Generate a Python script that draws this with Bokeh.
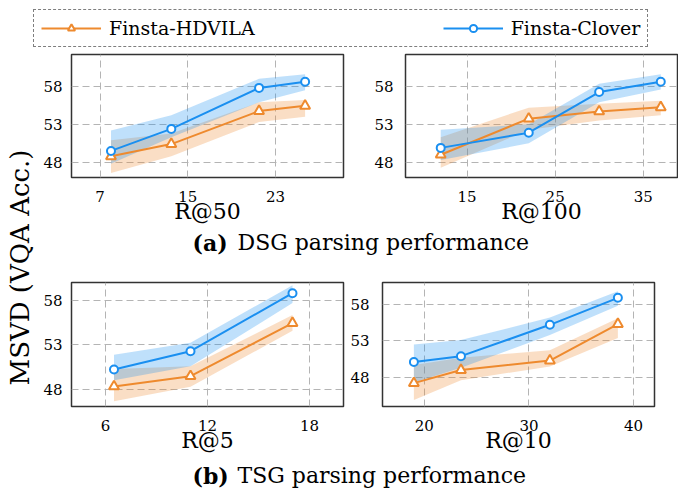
import numpy as np
from bokeh.plotting import figure
from bokeh.layouts import column, row
from bokeh.models import Label, Legend, LegendItem, FixedTicker, Range1d
from bokeh.embed import file_html
from bokeh.resources import INLINE

FONT = "DejaVu Serif"
ORANGE = "#EE8A2E"
BLUE = "#1A8FF0"

series_names = ["Finsta-HDVILA", "Finsta-Clover"]
y_title = "MSVD (VQA Acc.)"
caption_tags = ["(a)", "(b)"]
caption_texts = ["DSG parsing performance", "TSG parsing performance"]

# (a) DSG, R@50
r50_x = [8.0, 13.5, 21.5, 25.7]
r50_hd = [48.8, 50.4, 54.75, 55.45]
r50_hd_lo = [46.6, 48.8, 53.3, 54.0]
r50_hd_hi = [50.9, 51.8, 55.9, 56.2]
r50_cl = [49.5, 52.4, 57.8, 58.6]
r50_cl_lo = [47.8, 51.3, 55.9, 57.5]
r50_cl_hi = [52.2, 54.2, 59.0, 59.6]
r50_xticks = [7, 15, 23]

# (a) DSG, R@100
r100_x = [12.0, 22.0, 30.0, 37.0]
r100_hd = [49.0, 53.75, 54.7, 55.25]
r100_hd_lo = [47.3, 52.3, 53.5, 54.2]
r100_hd_hi = [51.3, 55.2, 55.7, 56.1]
r100_cl = [49.9, 51.9, 57.25, 58.6]
r100_cl_lo = [48.3, 50.5, 55.9, 57.6]
r100_cl_hi = [52.3, 53.0, 58.35, 59.6]
r100_xticks = [15, 25, 35]

# (b) TSG, R@5
r5_x = [6.5, 11.0, 17.0]
r5_hd = [48.35, 49.5, 55.45]
r5_hd_lo = [46.7, 48.3, 54.6]
r5_hd_hi = [50.3, 50.6, 56.35]
r5_cl = [50.25, 52.3, 58.8]
r5_cl_lo = [49.05, 50.6, 57.7]
r5_cl_hi = [51.9, 53.25, 59.7]
r5_xticks = [6, 12, 18]

# (b) TSG, R@10
r10_x = [19.0, 23.5, 32.0, 38.5]
r10_hd = [47.2, 49.0, 50.3, 55.3]
r10_hd_lo = [44.9, 47.6, 49.5, 53.4]
r10_hd_hi = [49.7, 50.7, 51.7, 56.1]
r10_cl = [50.1, 50.9, 55.2, 58.9]
r10_cl_lo = [47.3, 49.3, 53.8, 57.8]
r10_cl_hi = [52.5, 53.1, 56.2, 59.8]
r10_xticks = [20, 30, 40]

y_ticks = [48, 53, 58]


def blank(width, height):
    f = figure(width=width, height=height, x_range=(0, 1), y_range=(0, 1),
               x_axis_location=None, y_axis_location=None, title=None,
               min_border=0, output_backend="svg", toolbar_location=None)
    f.outline_line_color = None
    f.grid.visible = False
    return f


def panel(xs, hd, hd_lo, hd_hi, cl, cl_lo, cl_hi, xticks, xlabel, xr, yr,
          bl, br, bt, bb, fh, ystand):
    p = figure(frame_width=272, frame_height=fh, x_range=Range1d(*xr), y_range=Range1d(*yr),
               title=None, min_border_left=bl, min_border_right=br,
               min_border_top=bt, min_border_bottom=bb,
               output_backend="svg", toolbar_location=None)
    p.varea(x=xs, y1=hd_lo, y2=hd_hi, fill_color=ORANGE, fill_alpha=0.28)
    p.varea(x=xs, y1=cl_lo, y2=cl_hi, fill_color=BLUE, fill_alpha=0.28)
    p.line(xs, hd, line_color=ORANGE, line_width=2)
    p.line(xs, cl, line_color=BLUE, line_width=2)
    p.scatter(xs, hd, marker="triangle", size=10, fill_color="white",
              line_color=ORANGE, line_width=2)
    p.scatter(xs, cl, marker="circle", size=8, fill_color="white",
              line_color=BLUE, line_width=2)
    p.xaxis.ticker = FixedTicker(ticks=xticks)
    p.yaxis.ticker = FixedTicker(ticks=y_ticks)
    p.xaxis.axis_label = xlabel
    for ax in (p.xaxis, p.yaxis):
        ax.axis_line_color = None
        ax.major_tick_line_color = None
        ax.minor_tick_line_color = None
        ax.major_tick_out = 0
        ax.major_tick_in = 0
        ax.minor_tick_out = 0
        ax.minor_tick_in = 0
        ax.major_label_text_font = FONT
        ax.major_label_text_font_size = "15px"
        ax.major_label_text_color = "black"
        ax.axis_label_text_font = FONT
        ax.axis_label_text_font_size = "22px"
        ax.axis_label_text_font_style = "normal"
        ax.axis_label_text_color = "black"
    p.xaxis.major_label_standoff = 13
    p.yaxis.major_label_standoff = ystand
    p.xaxis.axis_label_standoff = -6
    p.grid.grid_line_color = "#b4b4b4"
    p.grid.grid_line_dash = "7 4"
    p.grid.grid_line_width = 1
    p.outline_line_color = "#333333"
    p.outline_line_width = 1.5
    p.outline_line_alpha = 1
    return p


# legend strip (its glyphs fall outside the strip's visible range, only the legend shows)
lg = blank(678, 52)
lr1 = lg.line(r50_x, r50_hd, line_color=ORANGE, line_width=2)
lr2 = lg.scatter(r50_x, r50_hd, marker="triangle", fill_color="white", line_color=ORANGE, line_width=2)
lr3 = lg.line(r50_x, r50_cl, line_color=BLUE, line_width=2)
lr4 = lg.scatter(r50_x, r50_cl, marker="circle", fill_color="white", line_color=BLUE, line_width=2)
legend = Legend(items=[LegendItem(label=series_names[0], renderers=[lr1, lr2]),
                       LegendItem(label=series_names[1], renderers=[lr3, lr4])],
                location=(33, 5), orientation="horizontal", spacing=188,
                padding=7, margin=0, glyph_width=60, glyph_height=18,
                label_standoff=8, label_text_font=FONT, label_text_font_size="19px",
                label_text_color="black",
                border_line_color="black", border_line_dash="5 3", border_line_width=1.2,
                background_fill_alpha=0)
lg.add_layout(legend, "center")

tl = panel(r50_x, r50_hd, r50_hd_lo, r50_hd_hi, r50_cl, r50_cl_lo, r50_cl_hi,
           r50_xticks, "R@50", (4.4, 29.2), (46.0, 62.2), 33, 17, 2, 50, 123, 9)
tr = panel(r100_x, r100_hd, r100_hd_lo, r100_hd_hi, r100_cl, r100_cl_lo, r100_cl_hi,
           r100_xticks, "R@100", (8.0, 38.9), (46.0, 62.2), 45, 1, 2, 50, 123, 12)
bl = panel(r5_x, r5_hd, r5_hd_lo, r5_hd_hi, r5_cl, r5_cl_lo, r5_cl_hi,
           r5_xticks, "R@5", (4.0, 20.0), (46.1, 60.0), 33, 3, 26, 55, 124, 9)
br = panel(r10_x, r10_hd, r10_hd_lo, r10_hd_hi, r10_cl, r10_cl_lo, r10_cl_hi,
           r10_xticks, "R@10", (16.0, 42.0), (44.0, 61.0), 36, 24, 26, 55, 124, 13)

cap_a = blank(640, 29)
cap_b = blank(640, 34)
for cap, tag, txt, ypos in ((cap_a, caption_tags[0], caption_texts[0], 14),
                            (cap_b, caption_tags[1], caption_texts[1], 20)):
    cap.add_layout(Label(x=154, y=ypos, x_units="screen", y_units="screen", text=tag,
                         text_font=FONT, text_font_size="22px", text_font_style="bold",
                         text_align="left", text_baseline="middle", text_color="black"))
    cap.add_layout(Label(x=199, y=ypos, x_units="screen", y_units="screen", text=txt,
                         text_font=FONT, text_font_size="22px",
                         text_align="left", text_baseline="middle", text_color="black"))

yl = blank(38, 443)
yl.add_layout(Label(x=19, y=228, x_units="screen", y_units="screen", text=y_title,
                    angle=np.pi / 2, text_font=FONT, text_font_size="26px",
                    text_align="center", text_baseline="middle", text_color="black"))

grid = column(row(tl, tr), cap_a, row(bl, br), cap_b)
page = column(lg, row(yl, grid))

with open("out.html", "w") as fh:
    fh.write(file_html(page, INLINE))
